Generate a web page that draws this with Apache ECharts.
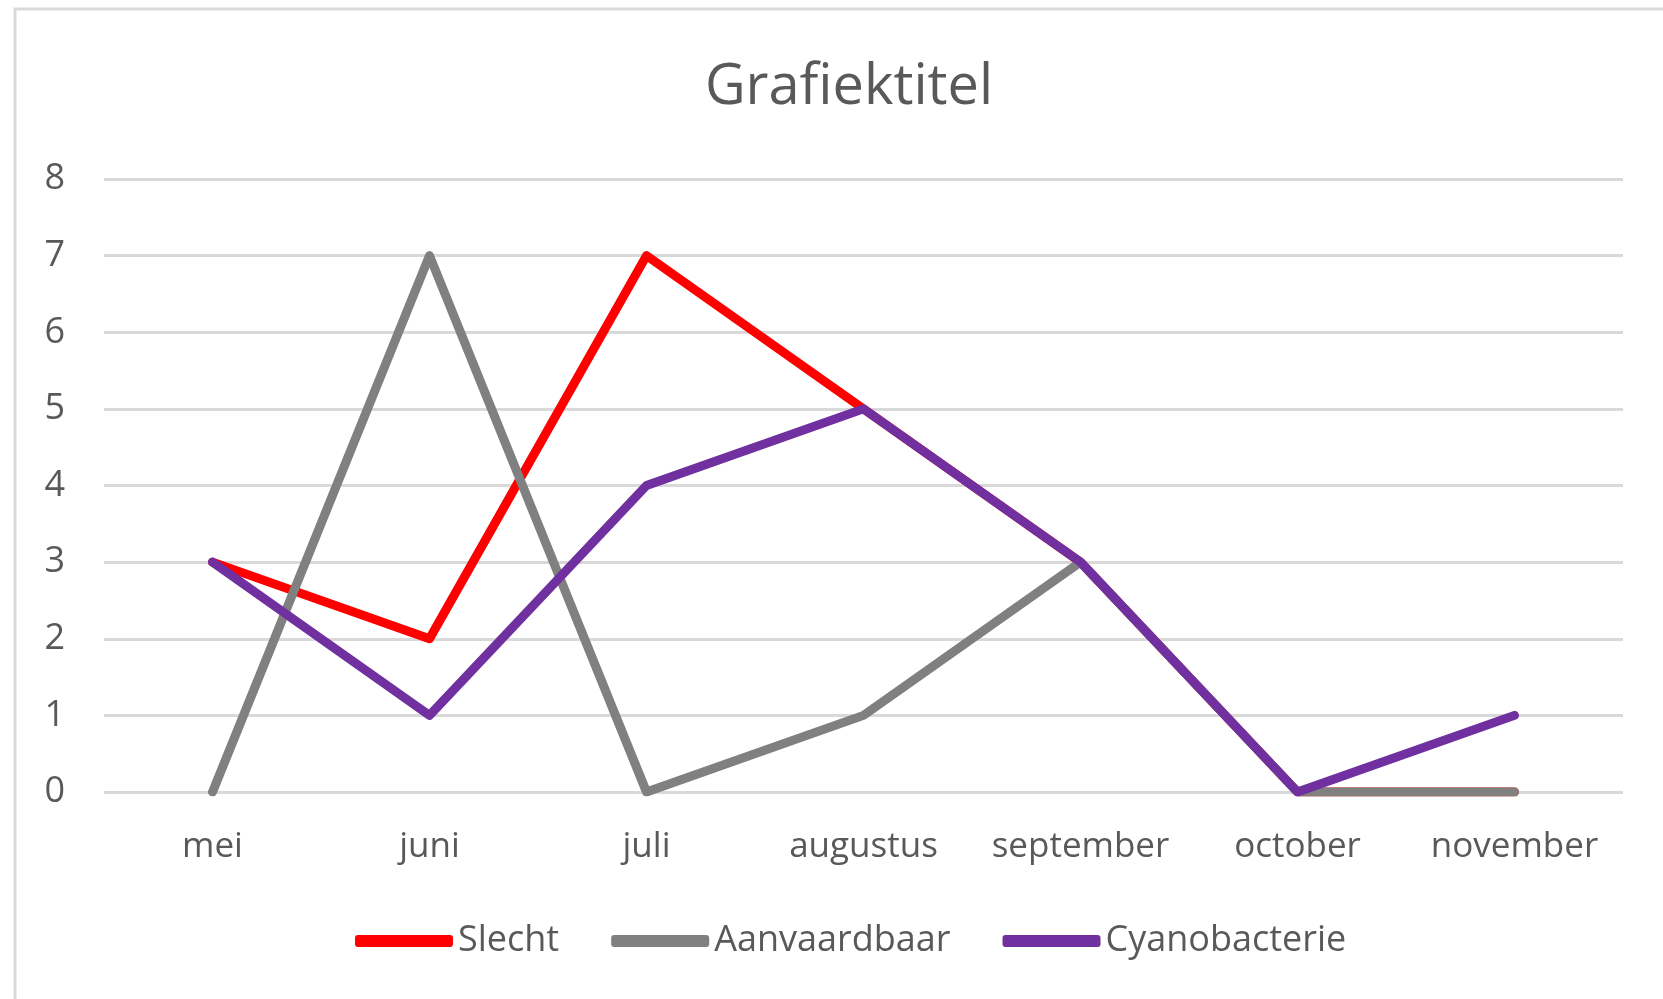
<!DOCTYPE html>
<html>
<head>
<meta charset="utf-8">
<script src="https://cdn.jsdelivr.net/npm/echarts@6/dist/echarts.min.js"></script>
<style>
html,body{margin:0;padding:0;background:#fff;}
#chart{width:1663px;height:999px;}
</style>
</head>
<body>
<div id="chart"></div>
<script>
const titleText = 'Grafiektitel';
const categories = ['mei', 'juni', 'juli', 'augustus', 'september', 'october', 'november'];
const slecht = [3, 2, 7, 5, 3, 0, 0];
const aanvaardbaar = [0, 7, 0, 1, 3, 0, 0];
const cyanobacterie = [3, 1, 4, 5, 3, 0, 1];
const seriesNames = ['Slecht', 'Aanvaardbaar', 'Cyanobacterie'];
const seriesColors = ['#FF0000', '#808080', '#7030A0'];
const yTicks = { min: 0, max: 8, interval: 1 };

const FONT = '"Open Sans", "Noto Sans", sans-serif';
const TXT = '#595959';
const seriesData = [slecht, aanvaardbaar, cyanobacterie];

const chart = echarts.init(document.getElementById('chart'), null, { renderer: 'canvas' });
chart.setOption({
  backgroundColor: '#ffffff',
  animation: false,
  graphic: [{
    type: 'rect',
    shape: { x: 15, y: 9, width: 1720, height: 1100 },
    style: { fill: 'none', stroke: '#d9d9d9', lineWidth: 3 },
    silent: true,
    z: -10
  }],
  title: {
    text: titleText,
    left: 844,
    top: 55,
    textAlign: 'center',
    textStyle: { fontFamily: FONT, fontSize: 56, fontWeight: 'normal', color: TXT }
  },
  legend: {
    bottom: 35,
    left: 350,
    itemWidth: 98,
    itemHeight: 12,
    itemGap: 52,
    icon: 'roundRect',
    textStyle: { fontFamily: FONT, fontSize: 36, color: TXT, padding: [0, 0, 0, 0] },
    data: seriesNames
  },
  grid: { left: 104, right: 40, top: 179, bottom: 207, containLabel: false },
  xAxis: {
    type: 'category',
    data: categories,
    boundaryGap: true,
    axisLine: { show: false },
    axisTick: { show: false },
    axisLabel: { fontFamily: FONT, fontSize: 35, color: TXT, margin: 38, interval: 0 }
  },
  yAxis: {
    type: 'value',
    min: yTicks.min,
    max: yTicks.max,
    interval: yTicks.interval,
    axisLine: { show: false },
    axisTick: { show: false },
    axisLabel: { fontFamily: FONT, fontSize: 36, color: TXT, margin: 39 },
    splitLine: { lineStyle: { color: '#d9d9d9', width: 3 } }
  },
  series: seriesNames.map((name, i) => ({
    name: name,
    type: 'line',
    data: seriesData[i],
    symbol: 'none',
    showSymbol: false,
    color: seriesColors[i],
    lineStyle: { color: seriesColors[i], width: 9, cap: 'round', join: 'round' },
    itemStyle: { color: seriesColors[i] },
    z: 2 + i
  }))
});
</script>
</body>
</html>
